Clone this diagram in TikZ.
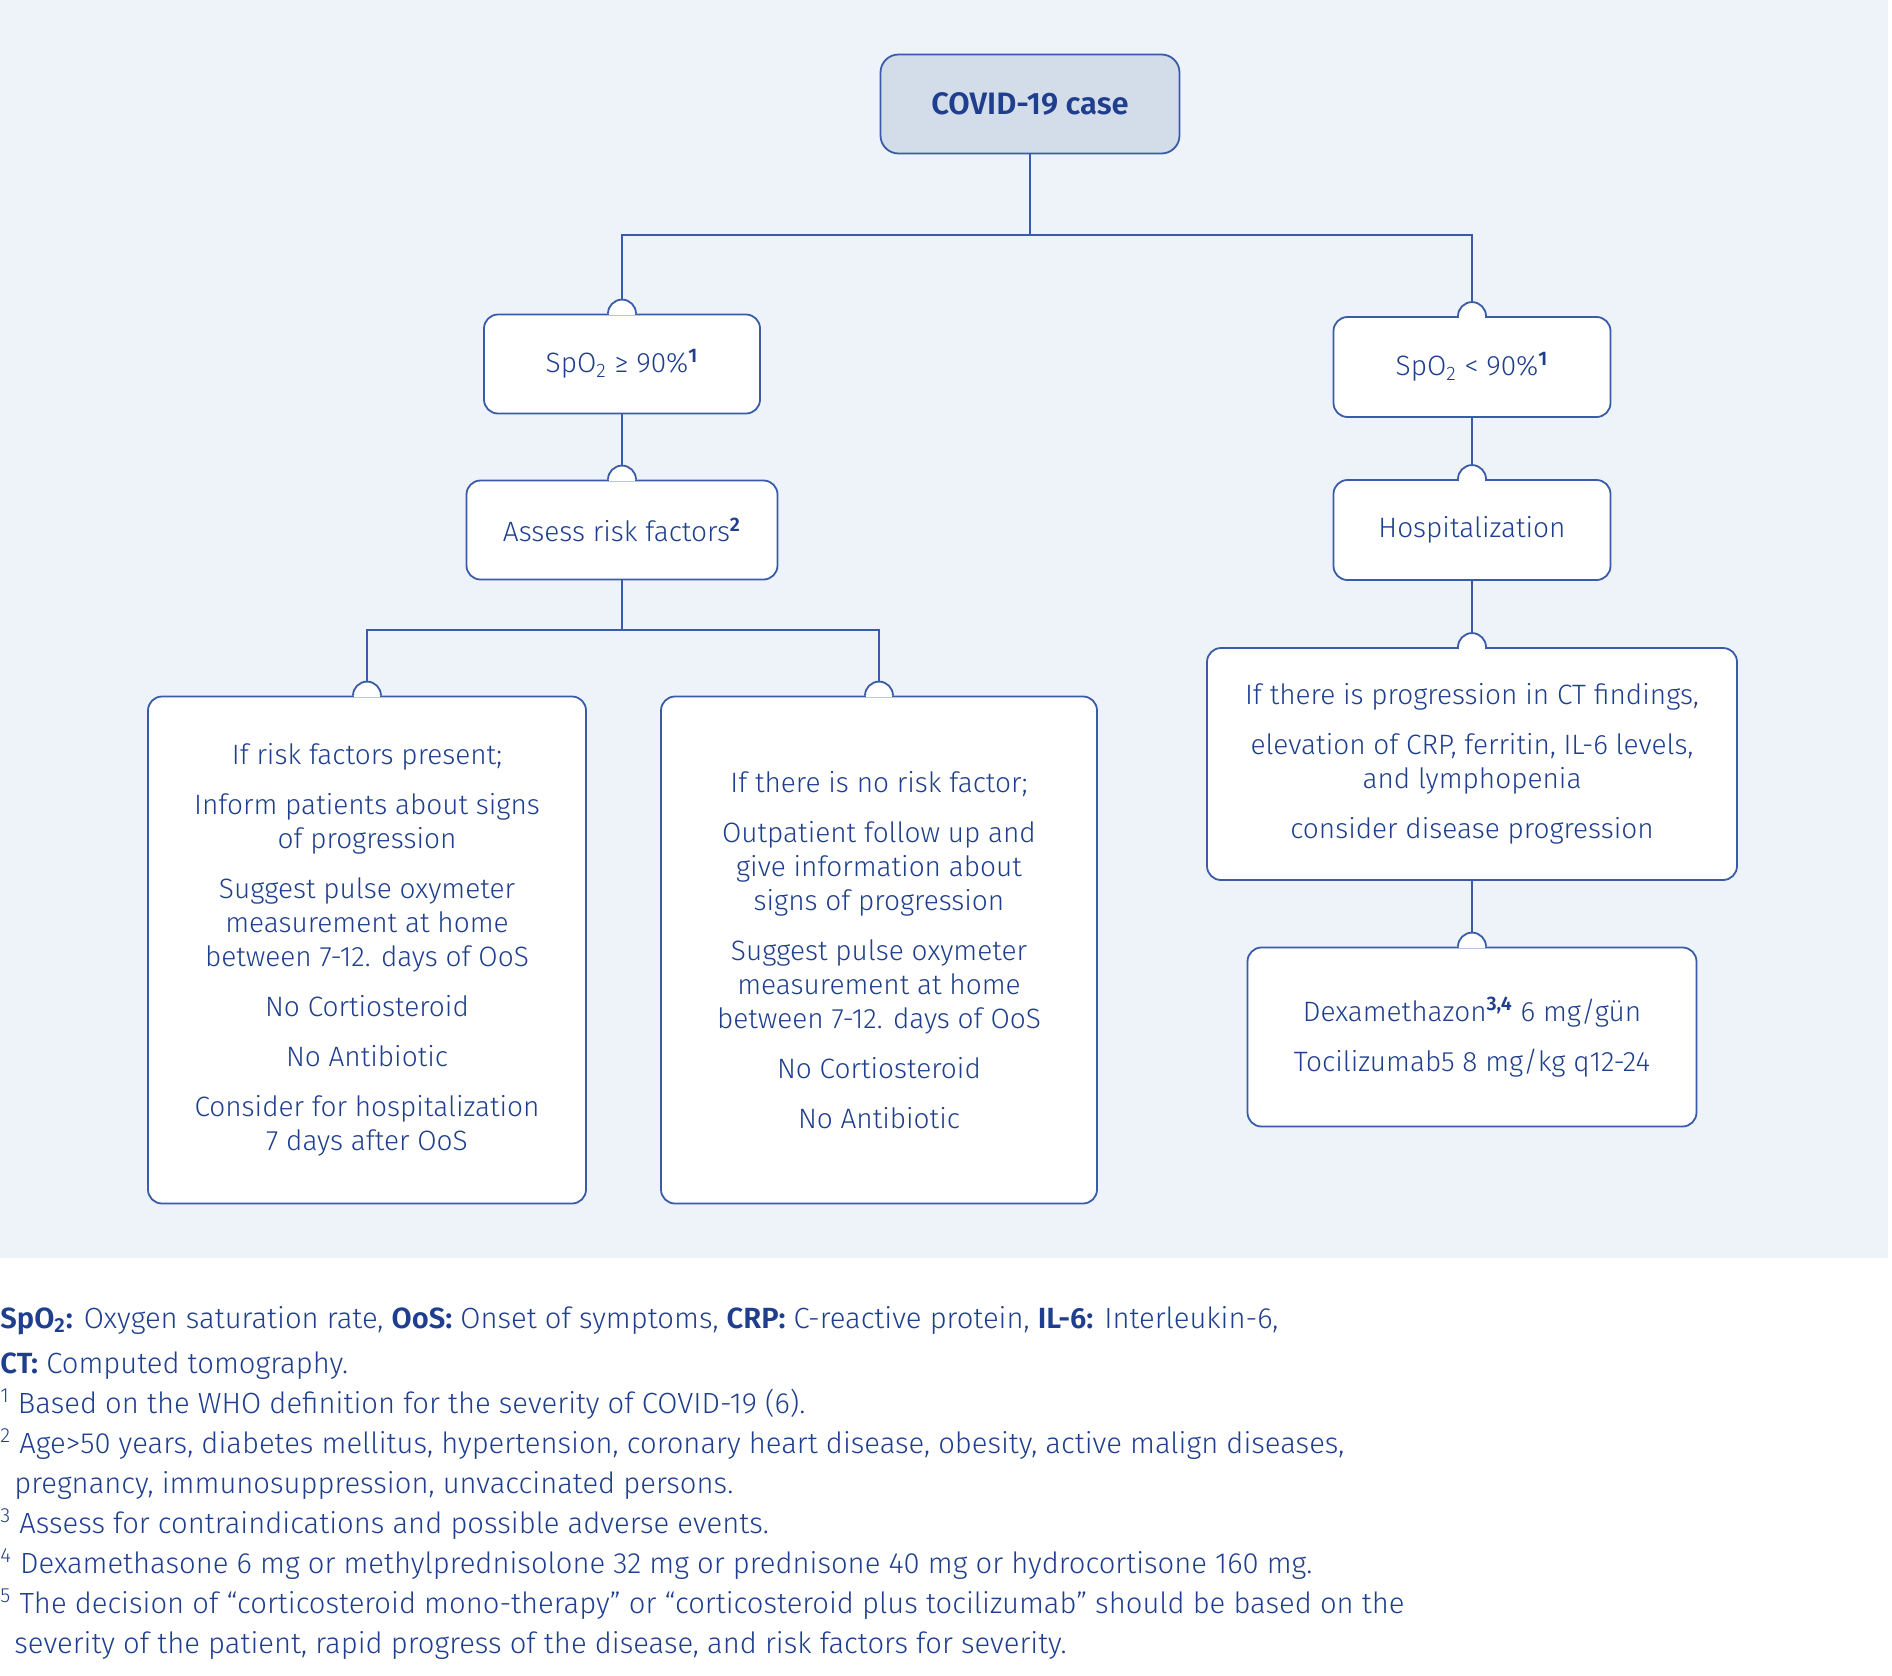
\documentclass[tikz,border=0pt]{standalone}
\usepackage{fontspec}
\setmainfont{Fira Sans Light}[BoldFont={Fira Sans SemiBold}]
\usepackage{xcolor}
\definecolor{CaseNavy}{HTML}{1F3F8E}
\definecolor{LinkBlue}{HTML}{3A5CA8}
\definecolor{PanelBlue}{HTML}{EEF3F9}
\definecolor{CaseFill}{HTML}{D3DDEA}

\newcommand{\topbump}[1]{%
  \fill[white] ([xshift=-7pt]#1.north) arc (180:0:7pt) -- cycle;
  \fill[white] ([xshift=-6.5pt,yshift=-0.7pt]#1.north) rectangle ([xshift=6.5pt,yshift=0.7pt]#1.north);
  \draw[link] ([xshift=-7pt]#1.north) arc (180:0:7pt);}

\begin{document}
\begin{tikzpicture}[
  x=0.5pt, y=-0.5pt,
  link/.style={draw=LinkBlue, line width=0.9pt},
  stepbox/.style={draw=LinkBlue, line width=0.9pt, fill=white, rounded corners=7pt,
    inner sep=0pt, align=center, text=CaseNavy, font=\fontsize{14}{17}\selectfont},
  casebox/.style={stepbox, fill=CaseFill, rounded corners=9pt, font=\fontsize{15.5}{17}\selectfont\bfseries},
  notes/.style={anchor=north west, inner sep=0pt, align=left, text=CaseNavy,
    font=\fontsize{14.6}{20}\selectfont}
]
\useasboundingbox (0,0) rectangle (1892,1676);
\fill[PanelBlue] (0,0) rectangle (1888,1258);

\node[casebox, minimum width=149.5pt, minimum height=49.5pt] (covid) at (1030,104) {COVID-19 case};
\node[stepbox, minimum width=138pt, minimum height=49.5pt] (high) at (622,364) {SpO\textsubscript{2} ≥ 90\%\textsuperscript{\bfseries 1}};
\node[stepbox, minimum width=138.5pt, minimum height=50pt] (low) at (1472,367) {SpO\textsubscript{2} < 90\%\textsuperscript{\bfseries 1}};
\node[stepbox, minimum width=155.5pt, minimum height=49.5pt] (assess) at (622,530) {Assess risk factors\textsuperscript{\bfseries 2}};
\node[stepbox, minimum width=138.5pt, minimum height=50pt] (hosp) at (1472,530) {Hospitalization};
\node[stepbox, minimum width=219pt, minimum height=253.5pt] (riskyes) at (367,950) {If risk factors present;\\[8pt]
  Inform patients about signs\\of progression\\[8pt]
  Suggest pulse oxymeter\\measurement at home\\between 7-12. days of OoS\\[8pt]
  No Cortiosteroid\\[8pt]
  No Antibiotic\\[8pt]
  Consider for hospitalization\\7 days after OoS};
\node[stepbox, minimum width=218pt, minimum height=253.5pt] (riskno) at (879,950) {If there is no risk factor;\\[8pt]
  Outpatient follow up and\\give information about\\signs of progression\\[8pt]
  Suggest pulse oxymeter\\measurement at home\\between 7-12. days of OoS\\[8pt]
  No Cortiosteroid\\[8pt]
  No Antibiotic};
\node[stepbox, minimum width=265pt, minimum height=116pt] (ct) at (1472,764) {If there is progression in CT findings,\\[8pt]
  elevation of CRP, ferritin, IL-6 levels,\\and lymphopenia\\[8pt]
  consider disease progression};
\node[stepbox, minimum width=224.5pt, minimum height=89.5pt] (dex) at (1472,1037) {Dexamethazon\textsuperscript{\bfseries 3,4} 6 mg/gün\\[8pt]
  Tocilizumab5 8 mg/kg q12-24};

\coordinate (split) at (1030,235);
\coordinate (risksplit) at (622,630);
\draw[link] (covid.south) -- (split);
\draw[link] (split) -| ([yshift=7pt]high.north);
\draw[link] (split) -| ([yshift=7pt]low.north);
\draw[link] (high.south) -- ([yshift=7pt]assess.north);
\draw[link] (low.south) -- ([yshift=7pt]hosp.north);
\draw[link] (assess.south) -- (risksplit);
\draw[link] (risksplit) -| ([yshift=7pt]riskyes.north);
\draw[link] (risksplit) -| ([yshift=7pt]riskno.north);
\draw[link] (hosp.south) -- ([yshift=7pt]ct.north);
\draw[link] (ct.south) -- ([yshift=7pt]dex.north);
\topbump{high}
\topbump{low}
\topbump{assess}
\topbump{hosp}
\topbump{riskyes}
\topbump{riskno}
\topbump{ct}
\topbump{dex}

\node[notes] (legend) at (0,1306) {\textbf{SpO\textsubscript{2}:} Oxygen saturation rate, \textbf{OoS:} Onset of symptoms, \textbf{CRP:} C-reactive protein, \textbf{IL-6:} Interleukin-6,\\[2.5pt]
\textbf{CT:} Computed tomography.\\
\textsuperscript{1} Based on the WHO definition for the severity of COVID-19 (6).\\
\textsuperscript{2} Age>50 years, diabetes mellitus, hypertension, coronary heart disease, obesity, active malign diseases,\\
\hspace*{7pt}pregnancy, immunosuppression, unvaccinated persons.\\
\textsuperscript{3} Assess for contraindications and possible adverse events.\\
\textsuperscript{4} Dexamethasone 6 mg or methylprednisolone 32 mg or prednisone 40 mg or hydrocortisone 160 mg.\\
\textsuperscript{5} The decision of “corticosteroid mono-therapy” or “corticosteroid plus tocilizumab” should be based on the\\
\hspace*{7pt}severity of the patient, rapid progress of the disease, and risk factors for severity.};
\end{tikzpicture}
\end{document}
